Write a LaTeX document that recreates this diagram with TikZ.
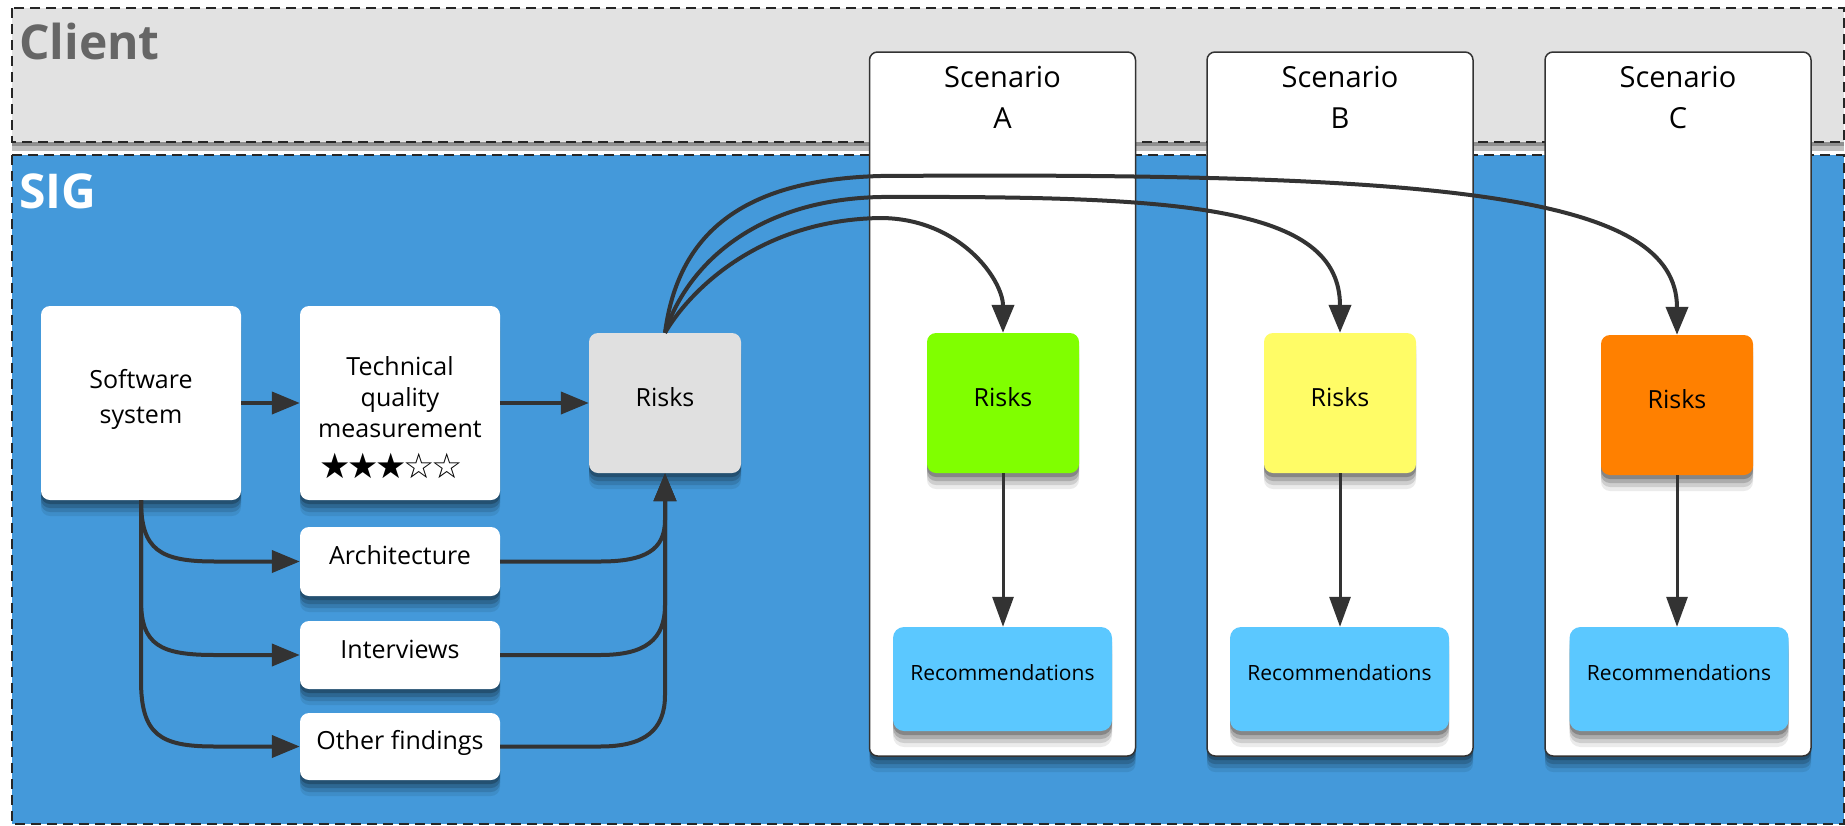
\documentclass[tikz,border=0pt]{standalone}
\usepackage{fontspec}
\setmainfont{Open Sans}
\newfontfamily\starfont{DejaVu Sans}
\usetikzlibrary{arrows.meta,shadows}
\definecolor{clientgrey}{HTML}{E2E2E2}
\definecolor{sigblue}{HTML}{4499DA}
\definecolor{labelgrey}{HTML}{666666}
\definecolor{riskgrey}{HTML}{E0E0E0}
\definecolor{riskgreen}{HTML}{80FF00}
\definecolor{riskyellow}{HTML}{FFFC66}
\definecolor{riskorange}{HTML}{FF8000}
\definecolor{recblue}{HTML}{5BC8FF}
\definecolor{arrowc}{HTML}{333333}
\tikzset{
  zone/.style={draw=black!85, line width=2pt, dash pattern=on 10pt off 6pt},
  shad/.style={
    general shadow={fill=black, opacity=.08, shadow xshift=0pt, shadow yshift=-16pt},
    general shadow={fill=black, opacity=.12, shadow xshift=0pt, shadow yshift=-12pt},
    general shadow={fill=black, opacity=.16, shadow xshift=0pt, shadow yshift=-8pt},
    general shadow={fill=black, opacity=.22, shadow xshift=0pt, shadow yshift=-4pt}},
  box/.style={shad, rounded corners=9pt, fill=white, align=center, text=black,
    font=\fontsize{25}{35}\selectfont, inner sep=0pt},
  onel/.style={text height=18pt, text depth=12pt},
  scen/.style={shad, draw=arrowc, line width=1.5pt, rounded corners=8pt, fill=white,
    minimum width=266pt, minimum height=704pt, inner sep=0pt},
  rbox/.style={shad, rounded corners=9pt, align=center, font=\fontsize{25}{30}\selectfont,
    minimum width=152pt, minimum height=140pt, inner sep=0pt, onel},
  recbox/.style={shad, rounded corners=11pt, fill=recblue, font=\fontsize{21}{26}\selectfont,
    minimum width=219pt, minimum height=104pt, inner sep=0pt, text height=15pt, text depth=12pt},
  arr/.style={draw=arrowc, line width=4pt, -{Triangle[length=28pt,width=22pt]}},
  arrthin/.style={draw=arrowc, line width=3pt, -{Triangle[length=30pt,width=21pt]}},
  zonelabel/.style={anchor=base west, font=\bfseries\fontsize{48}{50}\selectfont, inner sep=0pt},
  scenlabel/.style={anchor=north, align=center, font=\fontsize{29}{41}\selectfont, yshift=-11pt}
}
\begin{document}
\begin{tikzpicture}[x=1pt,y=-1pt]
\useasboundingbox (0,0) rectangle (1845,825);
% zones
\path[zone, fill=clientgrey,
  general shadow={fill=black, opacity=.25, shadow xshift=0pt, shadow yshift=-9pt},
  general shadow={fill=black, opacity=.25, shadow xshift=0pt, shadow yshift=-4pt}] (12,8) rectangle (1844,142);
\path[zone, fill=sigblue] (12,155) rectangle (1844,824);
\node[zonelabel, text=labelgrey] (clientlbl) at (19,59) {Client};
\node[zonelabel, text=white] (siglbl) at (19,208) {SIG};
% scenario columns
\node[scen, label={[scenlabel]north:{Scenario\\A}}] (scA) at (1002.5,404) {};
\node[scen, label={[scenlabel]north:{Scenario\\B}}] (scB) at (1340,404) {};
\node[scen, label={[scenlabel]north:{Scenario\\C}}] (scC) at (1678,404) {};
% left nodes
\node[box, minimum width=200pt, minimum height=194pt] (sw) at (141,403) {Software\\system\rule[-13pt]{0pt}{13pt}};
\node[box, minimum width=200pt, minimum height=194pt, font=\fontsize{25}{31}\selectfont] (tqm) at (400,403)
  {\rule{0pt}{49pt}Technical\\quality\\measurement\\[10pt]\hspace*{-18pt}{\starfont\fontsize{35}{40}\selectfont ★\kern-3.5pt★\kern-3.5pt★\kern-3.5pt☆\kern-3.5pt☆}};
\node[rbox, fill=riskgrey] (risk) at (665,403) {Risks};
\node[box, onel, minimum width=200pt, minimum height=69pt] (arch) at (400,561.5) {Architecture};
\node[box, onel, minimum width=200pt, minimum height=68pt] (intv) at (400,655) {Interviews};
\node[box, onel, minimum width=200pt, minimum height=67pt] (oth) at (400,746.5) {Other findings};
% scenario nodes
\node[rbox, fill=riskgreen] (rA) at (1003,403) {Risks};
\node[rbox, fill=riskyellow] (rB) at (1340,403) {Risks};
\node[rbox, fill=riskorange] (rC) at (1677,405) {Risks};
\node[recbox] (recA) at (1002.5,679) {Recommendations};
\node[recbox] (recB) at (1339.5,679) {Recommendations};
\node[recbox] (recC) at (1679,679) {Recommendations};
% connectors
\draw[arr] (sw) -- (tqm);
\draw[arr] (tqm) -- (risk);
\draw[arr] (sw.south) .. controls (141,550) and (160,561.5) .. (215,561.5) -- (arch.west);
\draw[arr] (sw.south) -- (141,600) .. controls (141,645) and (160,655) .. (215,655) -- (intv.west);
\draw[arr] (sw.south) -- (141,680) .. controls (141,735) and (160,746.5) .. (215,746.5) -- (oth.west);
\draw[arr] (arch.east) -- (600,561.5) .. controls (645,561.5) and (665,550) .. (665,520) -- (risk.south);
\draw[arr] (intv.east) -- (600,655) .. controls (645,655) and (665,640) .. (665,605) -- (risk.south);
\draw[arr] (oth.east) -- (600,746.5) .. controls (645,746.5) and (665,730) .. (665,695) -- (risk.south);
\draw[arr] (risk.north) .. controls (690,290) and (760,220) .. (880,218) .. controls (960,218) and (1003,280) .. (rA.north);
\draw[arr] (risk.north) .. controls (685,270) and (750,200) .. (880,197) .. controls (1180,196) and (1340,205) .. (rB.north);
\draw[arr] (risk.north) .. controls (678,235) and (740,180) .. (880,176) .. controls (1450,172) and (1677,195) .. (rC.north);
\draw[arrthin] (rA.south) -- (rA.south |- recA.north);
\draw[arrthin] (rB.south) -- (rB.south |- recB.north);
\draw[arrthin] (rC.south) -- (rC.south |- recC.north);
\end{tikzpicture}
\end{document}
